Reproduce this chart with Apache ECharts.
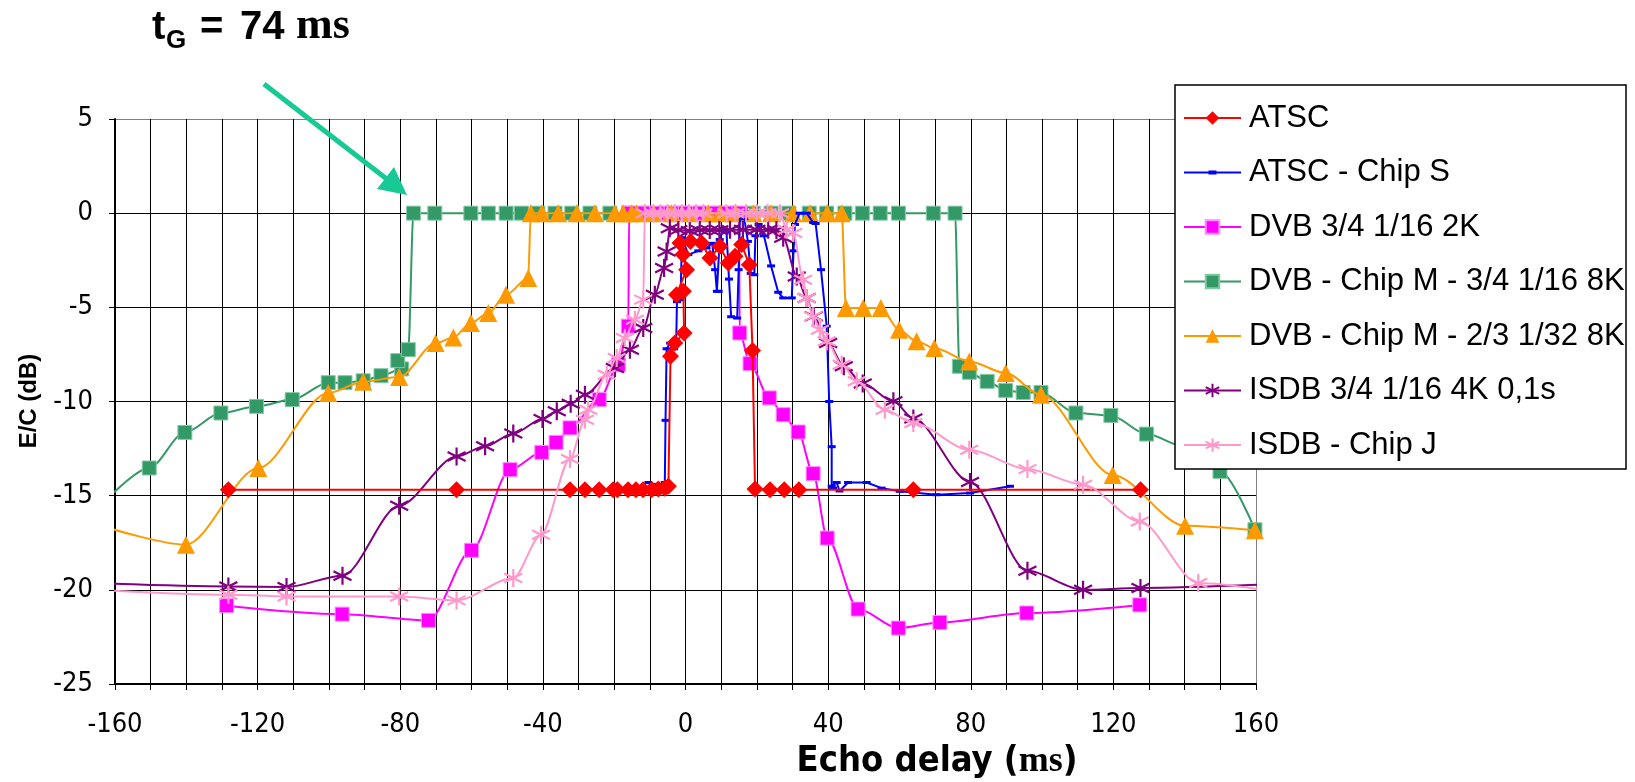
<!DOCTYPE html>
<html>
<head>
<meta charset="utf-8">
<script src="https://cdn.jsdelivr.net/npm/echarts@6/dist/echarts.min.js"></script>
<style>
  html, body { margin: 0; padding: 0; background: #fff; }
  #chart { width: 1635px; height: 782px; }
</style>
</head>
<body>
<div id="chart"></div>
<script>
// Echo delay (x) versus E/C threshold in dB (y) for each receiver.
const seriesNames = [
  'ATSC',
  'ATSC - Chip S',
  'DVB 3/4 1/16 2K',
  'DVB - Chip M - 3/4 1/16 8K',
  'DVB - Chip M - 2/3 1/32 8K',
  'ISDB 3/4 1/16 4K 0,1s',
  'ISDB - Chip J'
];

const xLabelValues = [-160, -120, -80, -40, 0, 40, 80, 120, 160];
const yLabelValues = [5, 0, -5, -10, -15, -20, -25];

const atsc = [
  [-128.2, -14.68], [-64.2, -14.68], [-32.4, -14.68], [-28.2, -14.68], [-24.2, -14.68],
  [-20.3, -14.68], [-19.1, -14.68], [-16.1, -14.68], [-13.9, -14.68], [-11.9, -14.68],
  [-9.5, -14.68], [-7.6, -14.65], [-5.8, -14.6], [-4.8, -14.5], [-4.2, -7.6],
  [-3.0, -6.9], [-0.4, -6.36], [-0.6, -4.15], [-2.5, -4.33], [0.3, -3.0],
  [-0.7, -2.2], [-1.55, -1.58], [1.4, -1.5], [4.5, -1.58], [6.85, -2.38],
  [9.65, -1.76], [12.0, -2.65], [13.9, -2.29], [15.75, -1.67], [17.9, -2.74],
  [18.8, -7.29], [19.5, -14.65], [23.7, -14.68], [27.7, -14.68], [31.8, -14.68],
  [63.9, -14.68], [127.6, -14.68]
];

const atscChipS = [
  [-10.4, -14.3], [-8.5, -14.4], [-6.8, -14.5], [-5.8, -14.3], [-5.6, -11], [-5.3, -7.2],
  [-4.3, -6.9], [-3.2, -7.2], [-2.6, -6.8], [-2.4, -4.7], [-1.4, -4.6], [-1.0, -1.3],
  [0.8, -2.2], [3.6, -2.0], [5.9, -1.85], [7.5, -1.6], [8.3, -3.0], [8.8, -4.15],
  [9.3, -4.15], [9.6, -1.4], [10.5, -0.8], [11.5, -1.0], [12.2, -3.5], [12.8, -5.5],
  [14.5, -5.57], [14.9, -3], [15.3, 0], [16.5, -0.3], [17.5, -1.5], [18.3, -3.2],
  [19.3, -3.27], [19.6, -1.2], [20.5, -0.6], [22, -1.2], [24, -2.8], [26, -4.2],
  [27.4, -4.5], [29.8, -4.5], [30.3, -2], [30.7, -0.6], [32, 0], [34, 0],
  [35.8, -0.5], [36.5, -0.55], [38, -3], [39.6, -6.0], [40.3, -10], [41, -12.4],
  [41, -14.5], [41.4, -14.6], [42.4, -14.3], [43.2, -14.75], [45.6, -14.3],
  [50.8, -14.3], [55, -14.6], [60.1, -14.77], [70.4, -14.95], [79.8, -14.86], [91, -14.5]
];

const dvb2k = [
  [-128.7, -20.84], [-96.3, -21.29], [-72.1, -21.62], [-60, -17.9], [-49.2, -13.62],
  [-40.3, -12.7], [-36.3, -12.17], [-32.4, -11.4], [-24.2, -9.9], [-18.85, -8.05],
  [-16.05, -6.0], [-15.8, 0], [-12, 0], [-8, 0], [-4, 0], [0, 0], [4, 0], [8, 0],
  [11.5, 0], [15.0, 0], [15.2, -6.36], [18.1, -7.99], [23.5, -9.81], [27.4, -10.7],
  [31.6, -11.62], [35.8, -13.83], [39.75, -17.25], [48.4, -21.02], [59.7, -22.03],
  [71.35, -21.73], [95.7, -21.23], [127.4, -20.8]
];

const dvbChipM8k = [
  [-160.3, -14.83], [-150.4, -13.53], [-140.4, -11.64], [-130.3, -10.61], [-120.3, -10.26],
  [-110.3, -9.9], [-100.2, -9.0], [-95.5, -9.0], [-90.4, -8.9], [-85.4, -8.63],
  [-79.6, -8.27], [-80.7, -7.83], [-77.75, -7.25], [-76.3, 0], [-70.3, 0], [-60.2, 0],
  [-55.3, 0], [-50.3, 0], [-46, 0], [-41.4, 0], [-36.6, 0], [-31.9, 0], [-26.8, 0],
  [-21.2, 0], [-16, 0], [-11, 0], [-6, 0], [-1, 0], [4, 0], [9, 0], [14, 0], [19, 0],
  [24, 0], [29, 0], [34.7, 0], [39.6, 0], [44.7, 0], [49.6, 0], [54.6, 0], [59.7, 0],
  [69.5, 0], [75.6, 0], [76.8, -8.13], [79.6, -8.45], [84.6, -8.93], [89.8, -9.41],
  [94.7, -9.52], [99.7, -9.52], [109.5, -10.61], [119.3, -10.74], [129.3, -11.73],
  [140, -12.4], [149.9, -13.71], [159.7, -16.81]
];

const dvbChipM8kB = [
  [-160.3, -16.8], [-140.1, -17.6], [-119.8, -13.53], [-100.2, -9.55], [-90.4, -8.95],
  [-80.3, -8.7], [-70.1, -6.9], [-65.1, -6.6], [-60.2, -5.83], [-55.3, -5.3],
  [-50.35, -4.33], [-44.1, -3.44], [-43.4, 0], [-40.3, 0], [-35.7, 0], [-30.5, 0],
  [-25.4, 0], [-19.8, 0], [-17.5, 0], [-15.1, 0], [-13.7, 0], [-9, 0], [-4, 0], [1, 0],
  [6.4, 0], [9.7, 0], [14, 0], [19, 0], [24, 0], [30.2, 0], [34.9, 0], [39.7, 0],
  [43.8, 0], [45, -5.04], [49.85, -5.04], [54.8, -5.04], [59.9, -6.19],
  [64.8, -6.8], [69.8, -7.16], [79.6, -7.87], [89.8, -8.49], [99.7, -9.64],
  [119.8, -13.9], [140.1, -16.6], [159.7, -16.84]
];

const isdb4k = [
  [-165, -19.65], [-128.2, -19.82], [-111.9, -19.85], [-96.2, -19.25], [-80.3, -15.53],
  [-64.2, -12.92], [-56.2, -12.38], [-48.3, -11.7], [-40.1, -10.93], [-36.1, -10.52],
  [-32.2, -10.12], [-28.2, -9.64], [-19.8, -8.22], [-15.6, -7.25], [-11.85, -6.1],
  [-8.6, -4.33], [-6.0, -2.91], [-5.3, -2.03], [-4.4, -0.8], [-2.0, -0.9], [1.2, -0.95],
  [4, -0.9], [6.8, -0.9], [9.5, -0.9], [12.5, -0.88], [16.1, -0.88], [19.9, -0.88],
  [23.2, -0.88], [25.5, -0.9], [27.4, -1.3], [31.2, -3.36], [34, -4.5], [36, -5.48],
  [40, -6.89], [44.4, -8.13], [49.7, -9.05], [58.3, -9.99], [63.9, -10.9],
  [79.8, -14.27], [95.9, -18.99], [111.5, -20.0], [127.6, -19.9], [165, -19.7]
];

const isdbChipJ = [
  [-165, -20.0], [-128.2, -20.26], [-111.9, -20.35], [-80.3, -20.35], [-64.2, -20.56],
  [-48.3, -19.37], [-40.5, -17.07], [-32.4, -13.05], [-28.2, -10.97], [-27.3, -10.44],
  [-22.1, -8.58], [-19.3, -7.69], [-17, -6.63], [-14.2, -5.66], [-11.85, -4.59],
  [-11.4, 0], [-9, 0], [-7, 0], [-5, 0], [-3, 0], [-1, 0], [1, 0], [3, 0], [5, 0],
  [11.5, 0], [14, 0], [17, 0], [20, 0], [23, 0], [26.5, 0], [28.4, -0.88], [30.2, -1.05],
  [33, -3.53], [34, -4.5], [35.8, -5.48], [37.7, -6.19], [39.6, -6.8], [43.8, -8.05],
  [48, -8.93], [55.9, -10.44], [63.9, -11.14], [79.6, -12.56], [95.9, -13.59],
  [111.5, -14.42], [127.4, -16.37], [143.8, -19.64], [165, -20.1]
];

const seriesData = [atsc, atscChipS, dvb2k, dvbChipM8k, dvbChipM8kB, isdb4k, isdbChipJ];

// six-armed asterisk marker (X plus vertical bar), drawn as strokes
const asterisk = 'path://M0,-10L0,10M-8.66,-5L8.66,5M-8.66,5L8.66,-5';
// legend icon for the dash-marker series: a line with a short thick dash
const dashIcon = 'path://M0,7.5H57V9.5H0Z M24.5,6.5H32.5V10.5H24.5Z';

const styles = [
  { color: '#ff0000', symbol: 'diamond', size: 17, smooth: false, z: 6 },
  { color: '#0000ff', symbol: 'rect', size: [8, 3], smooth: false, z: 5 },
  { color: '#ff00ff', border: '#ff8cff', symbol: 'rect', size: 14, smooth: 0.3, z: 3 },
  { color: '#339966', border: '#86c9a6', symbol: 'rect', size: 14, smooth: 0.3, z: 2 },
  { color: '#ff9900', symbol: 'triangle', size: 18, smooth: 0.3, z: 4 },
  { color: '#800080', symbol: asterisk, size: 18, smooth: 0.3, z: 5, stroke: true },
  { color: '#ff99cc', symbol: asterisk, size: 18, smooth: 0.3, z: 7, stroke: true }
];

const narrow = '"Liberation Sans Narrow", "Arial Narrow", "DejaVu Sans Condensed", sans-serif';
const sans = '"Liberation Sans", Arial, sans-serif';
const serif = '"Liberation Serif", "Times New Roman", serif';

const series = seriesNames.map((name, i) => {
  const s = styles[i];
  return {
    name,
    type: 'line',
    data: seriesData[i],
    smooth: s.smooth,
    smoothMonotone: 'x',
    symbol: s.symbol,
    symbolSize: s.size,
    showAllSymbol: true,
    clip: true,
    z: s.z,
    lineStyle: { color: s.color, width: 2 },
    itemStyle: s.stroke
      ? { color: s.color, borderColor: s.color, borderWidth: 2.2 }
      : { color: s.color, borderColor: s.border || s.color, borderWidth: s.border ? 1 : 0 },
    emphasis: { disabled: true },
    animation: false
  };
});

const legendData = seriesNames.map((name, i) => (i === 1 ? { name, icon: dashIcon } : { name }));

const xGridColors = [];
for (let v = -160; v <= 160; v += 10) xGridColors.push(v === 160 ? '#808080' : '#000');
const yGridColors = [];
for (let v = -25; v <= 5; v += 5) yGridColors.push(v === 5 ? '#808080' : '#000');

const chart = echarts.init(document.getElementById('chart'), null, { renderer: 'canvas' });

chart.setOption({
  animation: false,
  backgroundColor: '#fff',
  grid: { left: 115, top: 119, width: 1141, height: 565, containLabel: false },
  xAxis: {
    type: 'value',
    min: -160, max: 160, interval: 10,
    axisLine: { show: true, onZero: false, lineStyle: { color: '#000', width: 2 } },
    axisTick: { show: true, length: 6, lineStyle: { color: '#000', width: 1 } },
    axisLabel: {
      margin: 27,
      fontFamily: narrow, fontSize: 27, color: '#000',
      formatter: v => (xLabelValues.includes(v) ? String(v) : '')
    },
    splitLine: { show: true, lineStyle: { color: xGridColors, width: 1 } }
  },
  yAxis: {
    type: 'value',
    min: -25, max: 5, interval: 5,
    axisLine: { show: true, onZero: false, lineStyle: { color: '#000', width: 2 } },
    axisTick: { show: true, length: 6, lineStyle: { color: '#000', width: 1 } },
    axisLabel: {
      margin: 22,
      fontFamily: narrow, fontSize: 27, color: '#000',
      formatter: v => (yLabelValues.includes(v) ? String(v) : '')
    },
    splitLine: { show: true, lineStyle: { color: yGridColors, width: 1 } }
  },
  legend: {
    orient: 'vertical',
    left: 1183, top: 101,
    padding: 0,
    itemWidth: 57, itemHeight: 17, itemGap: 20.5,
    z: 200,
    selectedMode: false,
    textStyle: { fontFamily: sans, fontSize: 31, lineHeight: 34, color: '#000', padding: [0, 0, 0, 3] },
    data: legendData
  },
  graphic: [
    { type: 'rect', z: 100, shape: { x: 1175, y: 85, width: 451, height: 384 },
      style: { fill: '#fff', stroke: '#000', lineWidth: 1.5 } },
    { type: 'text', x: 152, y: 28, z: 100,
      style: { text: 't', font: 'bold 40px ' + sans, fill: '#000', verticalAlign: 'middle' } },
    { type: 'text', x: 166, y: 41, z: 100,
      style: { text: 'G', font: 'bold 26px ' + sans, fill: '#000', verticalAlign: 'middle' } },
    { type: 'text', x: 200, y: 28, z: 100,
      style: { text: '=', font: 'bold 40px ' + sans, fill: '#000', verticalAlign: 'middle' } },
    { type: 'text', x: 240, y: 28, z: 100,
      style: { text: '74', font: 'bold 40px ' + sans, fill: '#000', verticalAlign: 'middle' } },
    { type: 'text', x: 296, y: 27, z: 100,
      style: { text: 'ms', font: 'bold 44px ' + serif, fill: '#000', verticalAlign: 'middle' } },
    { type: 'line', z: 100, shape: { x1: 264, y1: 84, x2: 388, y2: 180 },
      style: { stroke: '#17c995', lineWidth: 5 } },
    { type: 'polygon', z: 100, shape: { points: [[407, 195], [377, 189], [394, 167]] },
      style: { fill: '#17c995' } },
    { type: 'text', x: 29, y: 401, rotation: Math.PI / 2, z: 100,
      style: { text: 'E/C (dB)', font: 'bold 24px ' + sans, fill: '#000', align: 'center', verticalAlign: 'middle' } },
    { type: 'text', x: 937, y: 762, z: 100,
      style: {
        text: '{a|Echo delay (}{b|ms}{a|)}',
        align: 'center', verticalAlign: 'middle',
        rich: {
          a: { fontFamily: narrow, fontWeight: 'bold', fontSize: 36, fill: '#000', color: '#000' },
          b: { fontFamily: serif, fontWeight: 'bold', fontSize: 36, fill: '#000', color: '#000' }
        }
      } }
  ],
  series
});
</script>
</body>
</html>
